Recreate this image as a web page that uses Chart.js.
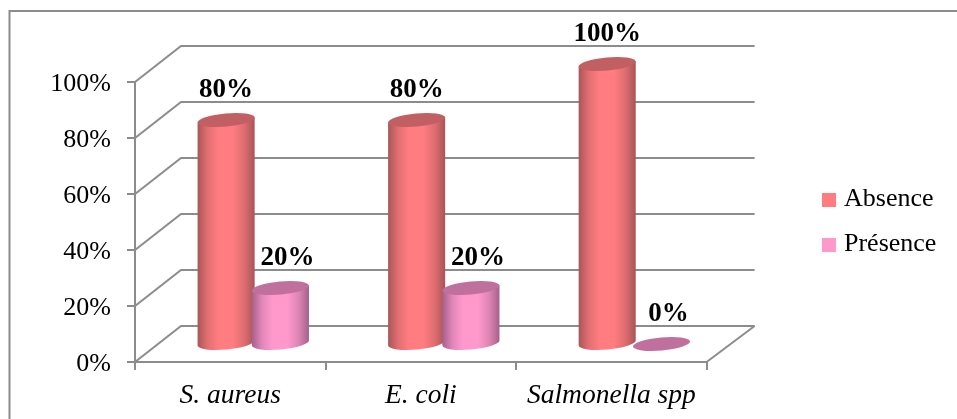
<!DOCTYPE html>
<html>
<head>
<meta charset="utf-8">
<title>Absence / Présence</title>
<script src="https://cdn.jsdelivr.net/npm/chart.js@4"></script>
<style>
body { margin: 0; background: #fff; }
canvas { display: block; }
</style>
</head>
<body>
<canvas id="chart" width="957" height="419"></canvas>
<script>
// Chart data
const categories = ['S. aureus', 'E. coli', 'Salmonella spp'];
const absence = [80, 80, 100];
const presence = [20, 20, 0];
const yTicks = [0, 20, 40, 60, 80, 100];

// Fake 3D look: how far the back wall sits from the front of the plot
const DEPTH_X = 46;
const DEPTH_Y = 36;
const GRID_COLOR = '#8c8c8c';
const FONT = '"Liberation Serif", "Times New Roman", serif';

const cylinderStyles = [
    { top: '#c25f62', stops: ['#a95557', '#e26f72', '#ff7c80', '#ff7c80', '#dd6d70', '#a65457'] },
    { top: '#c0709c', stops: ['#a5608a', '#e187b9', '#ff99cc', '#ff99cc', '#dc85b4', '#a5608a'] }
];
const labelShift = [0, 7];

// Square legend swatch, used as point style so the text gap can match
function makeSwatch(color) {
    const c = document.createElement('canvas');
    c.width = 14;
    c.height = 14;
    const g = c.getContext('2d');
    g.fillStyle = color;
    g.fillRect(0, 0, 14, 14);
    return c;
}
const swatches = [makeSwatch('#ff7c80'), makeSwatch('#ff99cc')];

// Draw one cylinder standing on a bar element
function drawCylinder(ctx, bar, style) {
    const cx = bar.x + DEPTH_X / 2;
    const baseY = bar.base - DEPTH_Y / 2;
    const topY = bar.y - DEPTH_Y / 2;
    // neighbouring cylinders overlap a little
    const rx = bar.width / 2 + 1.5;
    const ry = 6.5;
    const tilt = -0.09;
    const dx = rx * Math.cos(tilt);
    const dy = rx * Math.sin(tilt);

    if (baseY - topY > 1) {
        const grad = ctx.createLinearGradient(cx - rx, 0, cx + rx, 0);
        [0, 0.18, 0.36, 0.62, 0.82, 1].forEach((pos, i) => grad.addColorStop(pos, style.stops[i]));
        ctx.fillStyle = grad;
        ctx.beginPath();
        ctx.moveTo(cx - dx, topY - dy);
        ctx.lineTo(cx - dx, baseY - dy);
        ctx.ellipse(cx, baseY, rx, ry, tilt, Math.PI, 0, true);
        ctx.lineTo(cx + dx, topY + dy);
        ctx.closePath();
        ctx.fill();
    }

    ctx.fillStyle = style.top;
    ctx.beginPath();
    ctx.ellipse(cx, topY, rx, ry, tilt, 0, Math.PI * 2);
    ctx.fill();
}

const fake3d = {
    id: 'fake3d',
    beforeDraw(chart) {
        // outer frame, only top and left are visible in the picture
        const ctx = chart.ctx;
        ctx.save();
        ctx.strokeStyle = GRID_COLOR;
        ctx.lineWidth = 2;
        ctx.beginPath();
        ctx.moveTo(9.5, 419);
        ctx.lineTo(9.5, 11);
        ctx.lineTo(957, 11);
        ctx.stroke();
        ctx.restore();
    },
    afterLayout(chart) {
        const legend = chart.legend;
        const w = legend.width;
        legend.left = 808;
        legend.right = 808 + w;
        legend.top = chart.chartArea.top;
        legend.bottom = chart.chartArea.bottom;
    },
    beforeDatasetsDraw(chart) {
        const { ctx, chartArea, scales } = chart;
        ctx.save();
        ctx.strokeStyle = GRID_COLOR;
        ctx.lineWidth = 2;
        yTicks.forEach(v => {
            const y = scales.y.getPixelForValue(v);
            ctx.beginPath();
            ctx.moveTo(chartArea.left, y);
            ctx.lineTo(chartArea.left + DEPTH_X, y - DEPTH_Y);
            ctx.lineTo(chartArea.right + DEPTH_X + 2, y - DEPTH_Y);
            ctx.stroke();
        });
        ctx.beginPath();
        ctx.moveTo(chartArea.right, chartArea.bottom);
        ctx.lineTo(chartArea.right + DEPTH_X + 2, chartArea.bottom - DEPTH_Y);
        ctx.stroke();
        ctx.restore();
    },
    beforeDatasetDraw() {
        return false;
    },
    afterDatasetsDraw(chart) {
        const ctx = chart.ctx;
        ctx.save();
        chart.data.datasets.forEach((ds, i) => {
            chart.getDatasetMeta(i).data.forEach(bar => drawCylinder(ctx, bar, cylinderStyles[i]));
        });
        // value labels go on top of everything
        ctx.fillStyle = '#000';
        ctx.font = 'bold 27px ' + FONT;
        ctx.textAlign = 'center';
        ctx.textBaseline = 'middle';
        chart.data.datasets.forEach((ds, i) => {
            chart.getDatasetMeta(i).data.forEach((bar, j) => {
                ctx.fillText(ds.data[j] + '%', bar.x + DEPTH_X / 2 + labelShift[i], bar.y - DEPTH_Y / 2 - 30);
            });
        });
        ctx.restore();
    }
};

new Chart(document.getElementById('chart'), {
    type: 'bar',
    data: {
        labels: categories,
        datasets: [
            { label: 'Absence', data: absence, backgroundColor: '#ff7c80' },
            { label: 'Présence', data: presence, backgroundColor: '#ff99cc' }
        ]
    },
    plugins: [fake3d],
    options: {
        responsive: false,
        animation: false,
        categoryPercentage: 0.57,
        barPercentage: 1,
        layout: { padding: { top: 82, right: 112, left: 0, bottom: 0 } },
        plugins: {
            tooltip: { enabled: false },
            legend: {
                position: 'right',
                labels: {
                    usePointStyle: true,
                    boxWidth: 4,
                    padding: 19,
                    color: '#000',
                    font: { family: FONT, size: 26 },
                    generateLabels(chart) {
                        const items = Chart.defaults.plugins.legend.labels.generateLabels(chart);
                        items.forEach(item => { item.pointStyle = swatches[item.datasetIndex]; });
                        return items;
                    }
                }
            }
        },
        scales: {
            x: {
                afterFit(scale) { scale.height = 57; },
                grid: { offset: true, drawOnChartArea: false, color: GRID_COLOR, lineWidth: 2, tickLength: 8 },
                border: { color: GRID_COLOR, width: 2 },
                ticks: {
                    color: '#000',
                    padding: 9,
                    maxRotation: 0,
                    font: { family: FONT, size: 27.5, style: 'italic' }
                }
            },
            y: {
                min: 0,
                max: 100,
                afterFit(scale) { scale.width = 135; },
                grid: { drawOnChartArea: false, color: GRID_COLOR, lineWidth: 2, tickLength: 8 },
                border: { color: GRID_COLOR, width: 2 },
                ticks: {
                    stepSize: 20,
                    color: '#000',
                    padding: 16,
                    labelOffset: 2,
                    font: { family: FONT, size: 26 },
                    callback: v => v + '%'
                }
            }
        }
    }
});
</script>
</body>
</html>
